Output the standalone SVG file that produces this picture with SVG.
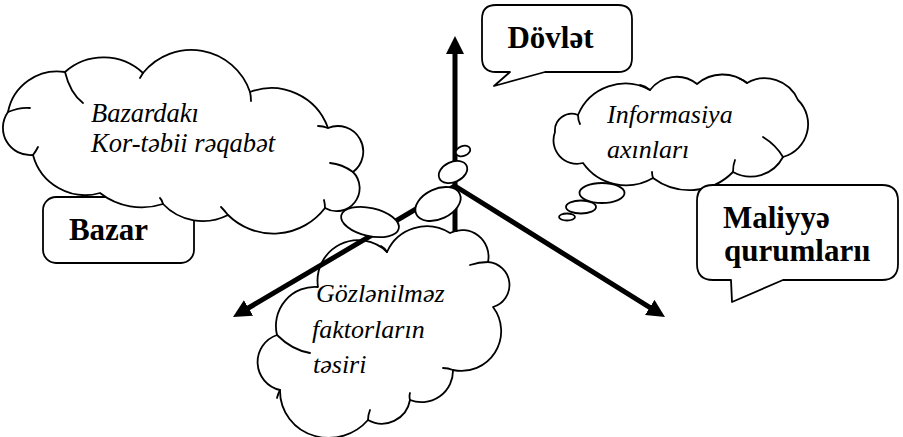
<svg xmlns="http://www.w3.org/2000/svg" width="903" height="437" viewBox="0 0 903 437">
<style>
.shape{fill:#fff;stroke:#000;stroke-width:1.8;stroke-linejoin:round}
.tick{fill:none;stroke:#000;stroke-width:1.8;stroke-linecap:round}
.axis{stroke:#000;stroke-width:5;fill:none}
.lbl{font-family:"Liberation Serif","Times New Roman",serif;font-weight:bold;font-size:31px;fill:#000}
.it{font-family:"Liberation Serif","Times New Roman",serif;font-style:italic;font-size:26.5px;fill:#000}
</style>
<defs>
<marker id="ah" markerUnits="userSpaceOnUse" markerWidth="20" markerHeight="18" refX="8" refY="9" orient="auto">
<path d="M0,0 L18,9 L0,18 Z" fill="#000"/>
</marker>
</defs>
<rect width="903" height="437" fill="#fff"/>

<g id="bazar">
<rect class="shape" x="43" y="197" width="151" height="66" rx="13"/>
<text class="lbl" x="108.5" y="240" text-anchor="middle">Bazar</text>
</g>

<g id="cloud-bazar">
<path class="shape" d="M8,112 A50,50 0 0 1 65,72 A58,58 0 0 1 143,73 A62,62 0 0 1 250,92 A60,60 0 0 1 328,128 A25.5,25.5 0 0 1 353,172 A23,23 0 0 1 325,208 A64.8,64.8 0 0 1 228,215 A54.9,54.9 0 0 1 163,204 A68,68 0 0 1 100,193 A54,54 0 0 1 33,155 A27.3,27.3 0 0 1 8,112 Z"/>
<path class="tick" d="M8,112 Q20,107 30,108 M65,72 Q70,93 83,103 M143,73 L140,78 M250,92 Q251,96 251,101 M328,128 Q323,126 318,126 M353,172 Q342,164 330,163 M325,208 Q325,204 324,200 M228,215 Q224,210 221,207 M163,204 Q162,200 160,198 M33,155 Q36,151 38,147"/>
<text class="it" x="91" y="122">Bazardakı</text>
<text class="it" x="91" y="152">Kor-təbii rəqabət</text>
</g>

<g id="cloud-info">
<path class="shape" d="M555,132 A16.8,16.8 0 0 1 578,115 A51.2,51.2 0 0 1 650,90 A33,33 0 0 1 697,84 A39.2,39.2 0 0 1 747,83 A36.1,36.1 0 0 1 798,100 A34,34 0 0 1 783,157 A36.5,36.5 0 0 1 733,172 A61,61 0 0 1 653,178 A52.8,52.8 0 0 1 583,163 A23.5,23.5 0 0 1 555,132 Z"/>
<path class="tick" d="M578,115 Q578,120 580,124 M650,90 Q645,86 640,85 M747,83 Q744,80 740,79 M783,157 Q776,145 763,137 M733,172 Q733,165 735,160 M653,178 Q652,175 652,172"/>
<ellipse class="shape" cx="602" cy="193" rx="22.5" ry="10"/>
<ellipse class="shape" cx="581" cy="207" rx="15" ry="6.5"/>
<ellipse class="shape" cx="567" cy="217" rx="8" ry="3.5"/>
<text class="it" x="607" y="123" style="font-size:26px">Informasiya</text>
<text class="it" x="607" y="158" style="font-size:26px">axınları</text>
</g>

<g id="maliyye">
<path class="shape" d="M713,185 H882 Q898,185 898,201 V264 Q898,280 882,280 H783 L732,302 L731,280 H713 Q697,280 697,264 V201 Q697,185 713,185 Z"/>
<text class="lbl" x="723" y="228">Maliyyə</text>
<text class="lbl" x="724" y="261">qurumlarıı</text>
</g>

<g id="dovlet">
<path class="shape" d="M496,5 H618 Q632,5 632,19 V58 Q632,72 618,72 H545 L494,86 L510,72 H496 Q482,72 482,58 V19 Q482,5 496,5 Z"/>
<text class="lbl" x="550.5" y="48" text-anchor="middle">Dövlət</text>
</g>

<g id="cloud-gozlenilmez">
<path class="shape" d="M318,287 A40.7,40.7 0 0 1 387,252 A43.6,43.6 0 0 1 450,233 A26.5,26.5 0 0 1 488,262 A23,23 0 0 1 493,307 A39.75,39.75 0 0 1 453,370 A31.5,31.5 0 0 1 410,400 A28.5,28.5 0 0 1 368,420 A52,52 0 0 1 315,436 A46.8,46.8 0 0 1 280,390 A28.6,28.6 0 0 1 277,335 A39,39 0 0 1 318,287 Z"/>
<path class="tick" d="M387,252 Q385,248 381,246 M488,262 Q479,262 470,265 M453,370 Q448,368 443,368 M410,400 Q409,396 410,393 M368,420 Q368,415 370,410 M280,390 Q278,394 277,398 M277,335 Q292,350 310,353"/>
<text class="it" x="316" y="302" style="font-size:26px">Gözlənilməz</text>
<text class="it" x="312" y="338" style="font-size:26px">faktorların</text>
<text class="it" x="313" y="373" style="font-size:26px">təsiri</text>
</g>

<g id="connectors">
<line class="axis" x1="455" y1="232" x2="455" y2="46" marker-end="url(#ah)"/>
<line class="axis" x1="455" y1="186" x2="656.5" y2="311.7" marker-end="url(#ah)"/>
<line class="axis" x1="455" y1="186" x2="241.6" y2="312" marker-end="url(#ah)"/>
</g>

<g id="bubbles">
<ellipse class="shape" cx="370" cy="222" rx="29.5" ry="14" transform="rotate(13 370 222)"/>
<ellipse class="shape" cx="438" cy="204" rx="24" ry="15" transform="rotate(-25 438 204)"/>
<ellipse class="shape" cx="453" cy="172" rx="15" ry="10" transform="rotate(-25 453 172)"/>
<ellipse class="shape" cx="463" cy="151" rx="7.5" ry="5" transform="rotate(-20 463 151)"/>
</g>
</svg>
